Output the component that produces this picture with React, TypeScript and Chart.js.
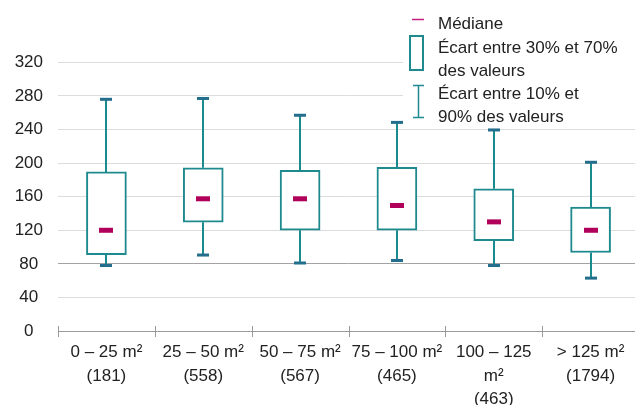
import React, { useEffect, useRef } from "react";
import { Chart, registerables } from "chart.js";

Chart.register(...registerables);

// ---- data ----
const categories: string[][] = [
  ["0 – 25 m²", "(181)"],
  ["25 – 50 m²", "(558)"],
  ["50 – 75 m²", "(567)"],
  ["75 – 100 m²", "(465)"],
  ["100 – 125", "m²", "(463)"],
  ["> 125 m²", "(1794)"],
];
const p10 = [78, 90.5, 81, 84, 78, 63];
const q30 = [91, 129.5, 120, 120, 107.5, 93.5];
const median = [120, 157.5, 157.5, 149.5, 130, 120];
const q70 = [189.5, 194.5, 191.5, 195, 169.5, 147.5];
const p90 = [276, 277, 257, 248.5, 239.5, 201];

const yMin = 0;
const yMax = 355;
const yStep = 40;

const legendMedian = "Médiane";
const legendBox = ["Écart entre 30% et 70%", "des valeurs"];
const legendWhisker = ["Écart entre 10% et", "90% des valeurs"];

// ---- styles ----
const FONT = "'Liberation Sans', Arial, Helvetica, sans-serif";
const TEXT = "#222222";
const BOX = "#1e8a8e";
const WHISKER = "#1b8a8f";
const CAP = "#246e8d";
const MEDIAN = "#b0005a";
const MEDIAN_LEGEND = "#c41f7f";
const GRID = "#dcdcdc";
const GRID_DARK = "#a3a3a3";
const AXIS = "#9a9a9a";

const boxExtras = {
  id: "boxExtras",
  afterDatasetsDraw(chart: any) {
    const { ctx } = chart;
    const x = chart.scales.x;
    const y = chart.scales.y;
    ctx.save();
    for (let i = 0; i < categories.length; i++) {
      const cx = Math.round(x.getPixelForValue(i));
      ctx.strokeStyle = WHISKER;
      ctx.lineWidth = 2;
      ctx.beginPath();
      ctx.moveTo(cx, y.getPixelForValue(q70[i]));
      ctx.lineTo(cx, y.getPixelForValue(p90[i]));
      ctx.moveTo(cx, y.getPixelForValue(q30[i]));
      ctx.lineTo(cx, y.getPixelForValue(p10[i]));
      ctx.stroke();
      ctx.fillStyle = CAP;
      for (const v of [p90[i], p10[i]]) {
        ctx.fillRect(cx - 6, y.getPixelForValue(v) - 1.5, 12, 3);
      }
      ctx.fillStyle = MEDIAN;
      ctx.fillRect(cx - 7, y.getPixelForValue(median[i]) - 2.5, 14, 5);
    }
    ctx.restore();
  },
  afterDraw(chart: any) {
    const { ctx, chartArea } = chart;
    const x = chart.scales.x;
    ctx.save();
    // category boundary tick marks crossing the axis
    ctx.strokeStyle = AXIS;
    ctx.lineWidth = 1;
    ctx.beginPath();
    for (let i = 0; i <= categories.length; i++) {
      const px = Math.round(x.getPixelForValue(i - 0.5)) + 0.5;
      ctx.moveTo(px, chartArea.bottom - 5);
      ctx.lineTo(px, chartArea.bottom + 6);
    }
    ctx.stroke();

    // legend
    ctx.fillStyle = "#ffffff";
    ctx.fillRect(403, 0, 240, 121);
    // median icon
    ctx.strokeStyle = MEDIAN_LEGEND;
    ctx.lineWidth = 1.5;
    ctx.beginPath();
    ctx.moveTo(412, 19.5);
    ctx.lineTo(424, 19.5);
    ctx.stroke();
    // box icon
    ctx.strokeStyle = BOX;
    ctx.lineWidth = 2;
    ctx.strokeRect(410, 36, 13, 34);
    // whisker icon
    ctx.lineWidth = 1.5;
    ctx.beginPath();
    ctx.moveTo(418.5, 85);
    ctx.lineTo(418.5, 118);
    ctx.moveTo(413, 85.5);
    ctx.lineTo(424, 85.5);
    ctx.moveTo(413, 117.5);
    ctx.lineTo(424, 117.5);
    ctx.stroke();

    ctx.fillStyle = TEXT;
    ctx.font = `17px ${FONT}`;
    ctx.textBaseline = "middle";
    ctx.textAlign = "left";
    ctx.fillText(legendMedian, 438, 24);
    ctx.fillText(legendBox[0], 438, 48);
    ctx.fillText(legendBox[1], 438, 71);
    ctx.fillText(legendWhisker[0], 438, 94);
    ctx.fillText(legendWhisker[1], 438, 117);
    ctx.restore();
  },
};

export default function App() {
  const ref = useRef<HTMLCanvasElement | null>(null);

  useEffect(() => {
    if (!ref.current) return;
    const chart = new Chart(ref.current, {
      type: "bar",
      data: {
        labels: categories as any,
        datasets: [
          {
            data: q30.map((v, i) => [v, q70[i]]) as any,
            backgroundColor: "#ffffff",
            borderColor: BOX,
            borderWidth: 2,
            borderSkipped: false,
            barThickness: 40,
          },
        ],
      },
      options: {
        responsive: false,
        animation: false,
        devicePixelRatio: 1,
        layout: { padding: { top: 33, left: 0, right: 0, bottom: 0 } },
        plugins: {
          legend: { display: false },
          tooltip: { enabled: false },
        },
        scales: {
          x: {
            grid: { display: false, drawTicks: false },
            border: { display: true, color: AXIS, width: 1 },
            ticks: {
              color: TEXT,
              font: { family: FONT, size: 17, lineHeight: 1.38 },
              padding: 10,
              maxRotation: 0,
              autoSkip: false,
            },
            afterFit: (s: any) => {
              s.height = 74;
            },
          },
          y: {
            min: yMin,
            max: yMax,
            bounds: "data",
            grid: {
              drawTicks: false,
              color: (c: any) => (c.tick && c.tick.value === 80 ? GRID_DARK : GRID),
              lineWidth: 1,
            },
            border: { display: false },
            ticks: {
              stepSize: yStep,
              includeBounds: false,
              color: TEXT,
              font: { family: FONT, size: 17 },
              crossAlign: "center",
              padding: 15,
            },
            afterBuildTicks: (s: any) => {
              s.ticks = s.ticks.filter((t: any) => t.value % yStep === 0);
            },
            afterFit: (s: any) => {
              s.width = 58;
            },
          },
        },
      },
      plugins: [boxExtras],
    } as any);
    return () => chart.destroy();
  }, []);

  return (
    <div
      style={{
        position: "fixed",
        left: 0,
        top: 0,
        width: 635,
        height: 405,
        overflow: "hidden",
        background: "#ffffff",
      }}
    >
      <canvas ref={ref} width={639} height={405} style={{ display: "block" }} />
    </div>
  );
}
